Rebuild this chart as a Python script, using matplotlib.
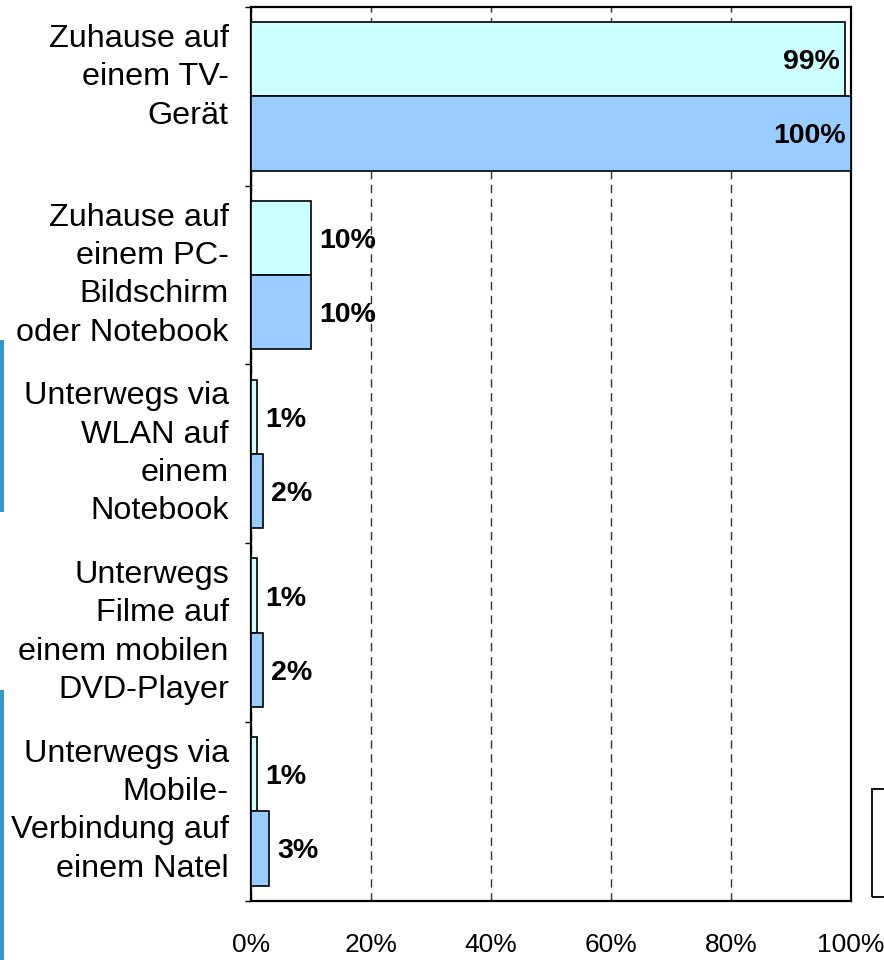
"""Nutzung Bildschirme: Zuhause vs. unterwegs, zwei Serien als horizontale Balken."""
import numpy as np
import matplotlib
matplotlib.use("Agg")
import matplotlib.pyplot as plt
from matplotlib.patches import Rectangle

plt.rcParams["font.family"] = ["Liberation Sans", "DejaVu Sans"]

kategorien = [
    "Zuhause auf\neinem TV-\nGerät\n ",
    "Zuhause auf\neinem PC-\nBildschirm\noder Notebook",
    "Unterwegs via\nWLAN auf\neinem\nNotebook",
    "Unterwegs\nFilme auf\neinem mobilen\nDVD-Player",
    "Unterwegs via\nMobile-\nVerbindung auf\neinem Natel",
]
werte_hell = [99, 10, 1, 1, 1]
werte_blau = [100, 10, 2, 2, 3]
x_ticks = [0, 20, 40, 60, 80, 100]

HELL = "#CCFFFF"
BLAU = "#99CCFF"

fig = plt.figure(figsize=(8.84, 9.6), dpi=100)
ax = fig.add_axes([251 / 884, 59.3 / 960, 600 / 884, 893.7 / 960])

y = np.arange(len(kategorien))
h = 0.415
ax.barh(y - h / 2, werte_hell, height=h, color=HELL, edgecolor="black", lw=1.2, zorder=3)
ax.barh(y + h / 2, werte_blau, height=h, color=BLAU, edgecolor="black", lw=1.2, zorder=3)

# Beschriftungen: grosse Balken innen, kleine aussen
for pos, werte in ((y - h / 2, werte_hell), (y + h / 2, werte_blau)):
    for yy, v in zip(pos, werte):
        if v >= 90:
            off, ha = -5, "right"
        else:
            off, ha = 8, "left"
        ax.annotate(f"{v}%", (v, yy), xytext=(off, 0), textcoords="offset pixels",
                    ha=ha, va="center_baseline", fontsize=20.5, fontweight="bold",
                    zorder=5)

ax.set_xlim(0, 100)
ax.set_ylim(len(kategorien) - 0.5, -0.5)

ax.set_xticks(x_ticks, [f"{t}%" for t in x_ticks], fontsize=19)
ax.tick_params(axis="x", length=0, pad=23)

ax.set_yticks(y, kategorien, fontsize=23.3)
ax.tick_params(axis="y", which="major", length=0, pad=16)
for lbl in ax.get_yticklabels():
    lbl.set_verticalalignment("center")
    lbl.set_linespacing(1.36)
ax.set_yticks(np.arange(-0.5, len(kategorien), 1), minor=True)
ax.tick_params(axis="y", which="minor", length=4, width=1, direction="out")

ax.xaxis.grid(True, linestyle=(0, (6, 4)), color="#333333", lw=1)
ax.set_axisbelow(True)
for s in ax.spines.values():
    s.set_linewidth(1.6)

# Reste der Folie: blaue Streifen links, abgeschnittener Legendenrahmen rechts
fig.add_artist(Rectangle((0, 1 - 512 / 960), 4 / 884, 172 / 960,
                         transform=fig.transFigure, color="#3399CC", lw=0))
fig.add_artist(Rectangle((0, 0), 4 / 884, 270 / 960,
                         transform=fig.transFigure, color="#3399CC", lw=0))
fig.add_artist(Rectangle((872 / 884, 1 - 897 / 960), 30 / 884, 108 / 960,
                         transform=fig.transFigure, fill=False,
                         edgecolor="black", lw=1.3, clip_on=False))

fig.savefig("out.png", dpi=100)
